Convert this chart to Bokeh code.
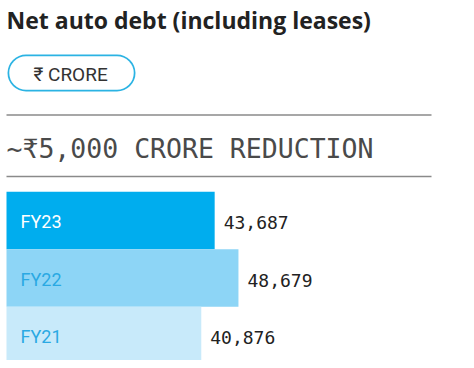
from bokeh.plotting import figure
from bokeh.models import Range1d, ColumnDataSource
from bokeh.core.properties import value
from bokeh.embed import file_html
from bokeh.resources import INLINE

# ---- data ----
categories = ["FY23", "FY22", "FY21"]
values = [43687, 48679, 40876]
value_labels = ["43,687", "48,679", "40,876"]
title_text = "Net auto debt (including leases)"
unit_text = "₹ CRORE"
headline_text = "~₹5,000 CRORE REDUCTION"

# ---- styles ----
bar_colors = ["#00adee", "#8dd5f6", "#c8eafa"]
label_colors = ["#ffffff", "#2aa9e3", "#2aa9e3"]

W, H = 466, 360
PX_PER_UNIT = 0.004765
X0 = 6  # pixel where the value axis starts

p = figure(width=W, height=H, output_backend="svg", toolbar_location=None,
           x_range=Range1d(-X0 / PX_PER_UNIT, (W - X0) / PX_PER_UNIT),
           y_range=Range1d(H, 0), title=None,
           min_border=0, outline_line_color=None, background_fill_color="white")
p.axis.visible = False
p.xgrid.visible = False
p.ygrid.visible = False
p.extra_x_ranges = {"px": Range1d(0, W)}

# title
p.text(x=[6], y=[19], text=[title_text], x_range_name="px",
       text_font=value("Open Sans"), text_font_style="bold", text_font_size="23px",
       text_color="#222222", text_baseline="middle", text_align="left")

# pill
p.line(x=[25.5, 116.5], y=[72.5, 72.5], x_range_name="px", line_width=37,
       line_color="#2bb3e3", line_cap="round")
p.line(x=[25.5, 116.5], y=[72.5, 72.5], x_range_name="px", line_width=33.5,
       line_color="white", line_cap="round")
p.text(x=[33], y=[74], text=[unit_text], x_range_name="px",
       text_font=value("Roboto"), text_font_size="19px", text_color="#333333",
       text_baseline="middle", text_align="left")

# rules
p.segment(x0=[6, 6], y0=[114.5, 176], x1=[431, 431], y1=[114.5, 176],
          x_range_name="px", line_color="#8a8a8a", line_width=1.5)

# headline
p.text(x=[6], y=[147.5], text=[headline_text], x_range_name="px",
       text_font=value("DejaVu Sans Mono"), text_font_size="26.5px",
       text_color="#4a4a4a", text_baseline="middle", text_align="left")

# bars
centers = [220 + i * 57.5 for i in range(len(categories))]
src = ColumnDataSource(dict(y=centers, right=values, cat=categories,
                            lab=value_labels, color=bar_colors, lc=label_colors))
p.hbar(y="y", left=0, right="right", height=57.5, fill_color="color",
       line_color=None, source=src)
p.text(x=0, y="y", text="cat", source=src, x_offset=14, y_offset=1,
       text_font=value("Roboto"), text_font_size="18px", text_color="lc",
       text_baseline="middle", text_align="left")
p.text(x="right", y="y", text="lab", source=src, x_offset=9, y_offset=2,
       text_font=value("DejaVu Sans Mono"), text_font_size="18px",
       text_color="#222222", text_baseline="middle", text_align="left")

open("out.html", "w").write(file_html(p, INLINE))
